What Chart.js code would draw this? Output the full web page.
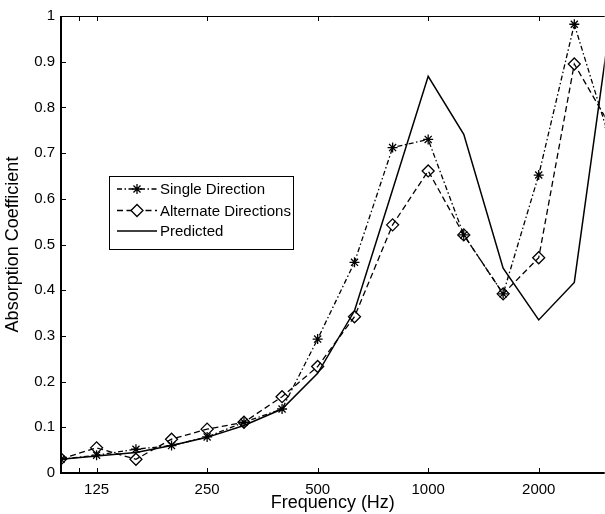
<!DOCTYPE html>
<html>
<head>
<meta charset="utf-8">
<script src="https://cdn.jsdelivr.net/npm/chart.js@4.4.1/dist/chart.umd.min.js"></script>
<style>
  html, body { margin: 0; padding: 0; background: #fff; overflow: hidden; }
  #wrap { width: 605px; height: 514px; overflow: hidden; }
  canvas { display: block; }
</style>
</head>
<body>
<div id="wrap"><canvas id="chart" width="605" height="514"></canvas></div>
<script>
// 1/3 octave band centre frequencies (Hz)
const frequencies = [100, 125, 160, 200, 250, 315, 400, 500, 630, 800, 1000, 1250, 1600, 2000, 2500, 3150];

const singleDirection     = [0.030, 0.039, 0.052, 0.060, 0.079, 0.111, 0.140, 0.293, 0.461, 0.712, 0.730, 0.521, 0.392, 0.652, 0.982, 0.720];
const alternateDirections = [0.031, 0.055, 0.030, 0.074, 0.096, 0.111, 0.167, 0.233, 0.342, 0.543, 0.661, 0.521, 0.392, 0.471, 0.895, 0.756];
const predicted           = [0.030, 0.037, 0.045, 0.060, 0.078, 0.104, 0.140, 0.218, 0.355, 0.620, 0.868, 0.741, 0.448, 0.335, 0.417, 1.000];

const xTickValues = [125, 250, 500, 1000, 2000];
const xExtraTicks = [112];
const yTickValues = [0, 0.1, 0.2, 0.3, 0.4, 0.5, 0.6, 0.7, 0.8, 0.9, 1];

const toPoints = (vals) => frequencies.map((f, i) => ({ x: f, y: vals[i] }));

const FONT = 'Liberation Sans, Arial, sans-serif';
const PLOT_RIGHT = 605;

// matlab style box, inward ticks and legend
const matlabFrame = {
  id: 'matlabFrame',
  afterDraw(chart) {
    const { ctx, chartArea: a, scales } = chart;
    const x = scales.x, y = scales.y;
    ctx.save();
    ctx.strokeStyle = '#000';
    ctx.setLineDash([]);

    ctx.lineWidth = 1;
    ctx.beginPath();
    xTickValues.concat(xExtraTicks).forEach(v => {
      const px = Math.round(x.getPixelForValue(v)) + 0.5;
      ctx.moveTo(px, a.bottom); ctx.lineTo(px, a.bottom - 5);
      ctx.moveTo(px, a.top); ctx.lineTo(px, a.top + 5);
    });
    yTickValues.forEach(v => {
      const py = Math.round(y.getPixelForValue(v)) + 0.5;
      ctx.moveTo(a.left, py); ctx.lineTo(a.left + 5, py);
    });
    ctx.moveTo(a.left, a.top + 0.5);
    ctx.lineTo(a.right, a.top + 0.5);
    ctx.stroke();

    ctx.lineWidth = 2;
    ctx.beginPath();
    ctx.moveTo(a.left, a.top);
    ctx.lineTo(a.left, a.bottom);
    ctx.lineTo(a.right, a.bottom);
    ctx.stroke();

    // legend
    const box = { left: 109.5, top: 176.5, right: 293.5, bottom: 249.5 };
    ctx.fillStyle = '#fff';
    ctx.fillRect(box.left, box.top, box.right - box.left, box.bottom - box.top);
    ctx.lineWidth = 1;
    ctx.strokeRect(box.left, box.top, box.right - box.left, box.bottom - box.top);

    const rows = [189, 210.5, 231];
    ctx.font = '15px ' + FONT;
    ctx.textBaseline = 'middle';
    ctx.textAlign = 'left';
    chart.data.datasets.forEach((ds, i) => {
      const yy = rows[i];
      ctx.save();
      ctx.lineWidth = ds.borderWidth;
      ctx.setLineDash(ds.borderDash || []);
      ctx.beginPath();
      ctx.moveTo(117, yy);
      ctx.lineTo(157, yy);
      ctx.stroke();
      ctx.restore();
      if (ds.pointRadius > 0) {
        ctx.fillStyle = '#fff';
        ctx.lineWidth = ds.pointBorderWidth;
        Chart.helpers.drawPoint(ctx, {
          pointStyle: ds.pointStyle,
          radius: ds.pointRadius,
          rotation: 0,
          borderWidth: ds.pointBorderWidth
        }, 137, yy);
      }
      ctx.fillStyle = '#000';
      ctx.fillText(ds.label, 160, yy + 1);
    });
    ctx.restore();
  }
};

const config = {
  type: 'line',
  data: {
    datasets: [
      {
        label: 'Single Direction',
        data: toPoints(singleDirection),
        borderColor: '#000',
        borderWidth: 1.3,
        borderDash: [5, 2.5, 1.5, 2.5],
        pointStyle: 'star',
        pointRadius: 5,
        pointBorderWidth: 1.3,
        pointBorderColor: '#000',
        pointBackgroundColor: 'rgba(0,0,0,0)',
        fill: false,
        tension: 0
      },
      {
        label: 'Alternate Directions',
        data: toPoints(alternateDirections),
        borderColor: '#000',
        borderWidth: 1.3,
        borderDash: [6, 3.5],
        pointStyle: 'rectRot',
        pointRadius: 6,
        pointBorderWidth: 1.3,
        pointBorderColor: '#000',
        pointBackgroundColor: 'rgba(0,0,0,0)',
        fill: false,
        tension: 0
      },
      {
        label: 'Predicted',
        data: toPoints(predicted),
        borderColor: '#000',
        borderWidth: 1.5,
        pointRadius: 0,
        fill: false,
        tension: 0
      }
    ]
  },
  options: {
    responsive: false,
    animation: false,
    events: [],
    layout: { padding: { top: 16, right: 0, bottom: 0, left: 0 } },
    plugins: {
      legend: { display: false },
      tooltip: { enabled: false }
    },
    scales: {
      x: {
        type: 'logarithmic',
        min: 100,
        max: 3025,
        afterBuildTicks: (scale) => { scale.ticks = xTickValues.map(v => ({ value: v })); },
        afterFit: (scale) => { scale.height = 41; },
        grid: { display: false, drawTicks: false },
        border: { display: false },
        ticks: {
          color: '#000',
          font: { family: FONT, size: 15 },
          padding: 8,
          maxRotation: 0,
          autoSkip: false,
          callback: (v) => String(v)
        },
        title: {
          display: true,
          text: 'Frequency (Hz)',
          color: '#000',
          font: { family: FONT, size: 18 },
          padding: { top: 0, bottom: 0 }
        }
      },
      y: {
        type: 'linear',
        min: 0,
        max: 1,
        afterBuildTicks: (scale) => { scale.ticks = yTickValues.map(v => ({ value: v })); },
        afterFit: (scale) => { scale.width = 61; },
        grid: { display: false, drawTicks: false },
        border: { display: false },
        ticks: {
          color: '#000',
          font: { family: FONT, size: 15 },
          padding: 6,
          autoSkip: false,
          callback: (v) => String(Number(v.toFixed(1)))
        },
        title: {
          display: true,
          text: 'Absorption Coefficient',
          color: '#000',
          font: { family: FONT, size: 18 },
          padding: { top: 2, bottom: 0 }
        }
      }
    }
  },
  plugins: [matlabFrame]
};

const canvas = document.getElementById('chart');
let chart = new Chart(canvas, config);
// the figure is cropped on the right: widen the canvas until the plot area reaches the crop edge
const gap = Math.round(PLOT_RIGHT - chart.chartArea.right);
if (gap > 0) {
  chart.destroy();
  canvas.width = 605 + gap;
  canvas.height = 514;
  chart = new Chart(canvas, config);
}
</script>
</body>
</html>
